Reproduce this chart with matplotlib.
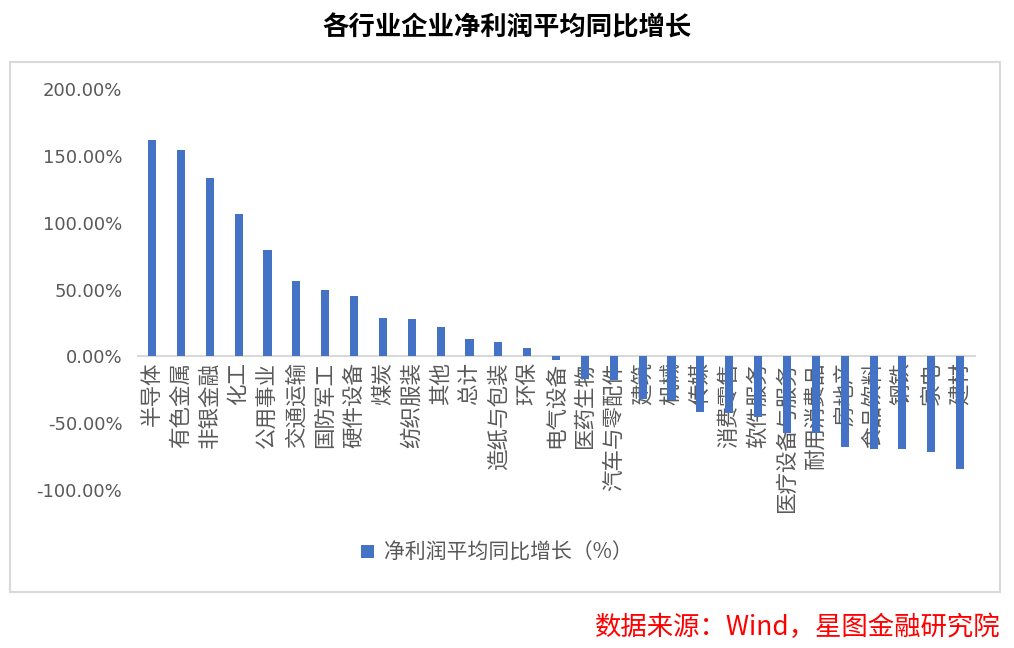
import numpy as np
import matplotlib
matplotlib.use("Agg")
import matplotlib.pyplot as plt
from matplotlib.patches import Rectangle

plt.rcParams['font.family'] = ['Noto Sans CJK SC', 'DejaVu Sans']

# Data
industries = ['半导体', '有色金属', '非银金融', '化工', '公用事业', '交通运输', '国防军工',
              '硬件设备', '煤炭', '纺织服装', '其他', '总计', '造纸与包装', '环保', '电气设备',
              '医药生物', '汽车与零配件', '建筑', '机械', '传媒', '消费零售', '软件服务',
              '医疗设备与服务', '耐用消费品', '房地产', '食品饮料', '钢铁', '家电', '建材']
growth = [161.8, 154.3, 133.6, 106.4, 79.4, 56.2, 50.0, 44.9, 29.0, 28.2, 22.2, 13.2,
          11.0, 6.5, -2.5, -17.0, -17.6, -32.0, -32.6, -41.8, -42.5, -45.0, -57.0,
          -57.0, -67.5, -69.0, -69.5, -71.8, -84.5]
yticks = [-100, -50, 0, 50, 100, 150, 200]

grey = '#595959'
blue = '#4472C4'

fig = plt.figure(figsize=(10.14, 6.48), dpi=100)

# outer chart frame
fig.patches.append(Rectangle((0.0099, 0.0864), 0.976, 0.818, transform=fig.transFigure,
                             fill=False, edgecolor='#d9d9d9', linewidth=1.5))

ax = fig.add_axes([0.1357, 0.2438, 0.8254, 0.6188])
x = np.arange(len(industries))
ax.bar(x, growth, width=0.28, color=blue, label='净利润平均同比增长（%）', zorder=2)

ax.set_xlim(-0.5, len(industries) - 0.5)
ax.set_ylim(-100, 200)
ax.set_yticks(yticks)
ax.set_yticklabels(['{:.2f}%'.format(v) for v in yticks], family='DejaVu Sans',
                   fontsize=13, color=grey)
ax.tick_params(axis='y', length=0, pad=11)

for s in ['top', 'right', 'left']:
    ax.spines[s].set_visible(False)
ax.spines['bottom'].set_position(('data', 0))
ax.spines['bottom'].set_color('#d9d9d9')
ax.spines['bottom'].set_linewidth(1.5)
ax.spines['bottom'].set_zorder(1)

ax.set_xticks(x)
ax.set_xticklabels(industries, rotation=90, fontsize=15.5, color=grey)
ax.tick_params(axis='x', length=0, pad=4)

fig.legend(loc='center', bbox_to_anchor=(0.49, 0.147), frameon=False, fontsize=15,
           handlelength=0.6, handleheight=0.6, handletextpad=0.5, labelcolor=grey)

fig.text(0.5, 0.957, '各行业企业净利润平均同比增长', ha='center', va='center',
         fontsize=19, fontweight='bold', color='black')
fig.text(0.987, 0.031, '数据来源：Wind，星图金融研究院', ha='right', va='center',
         fontsize=19, style='italic', color='#ff0000')

fig.savefig('out.png', dpi=100)
